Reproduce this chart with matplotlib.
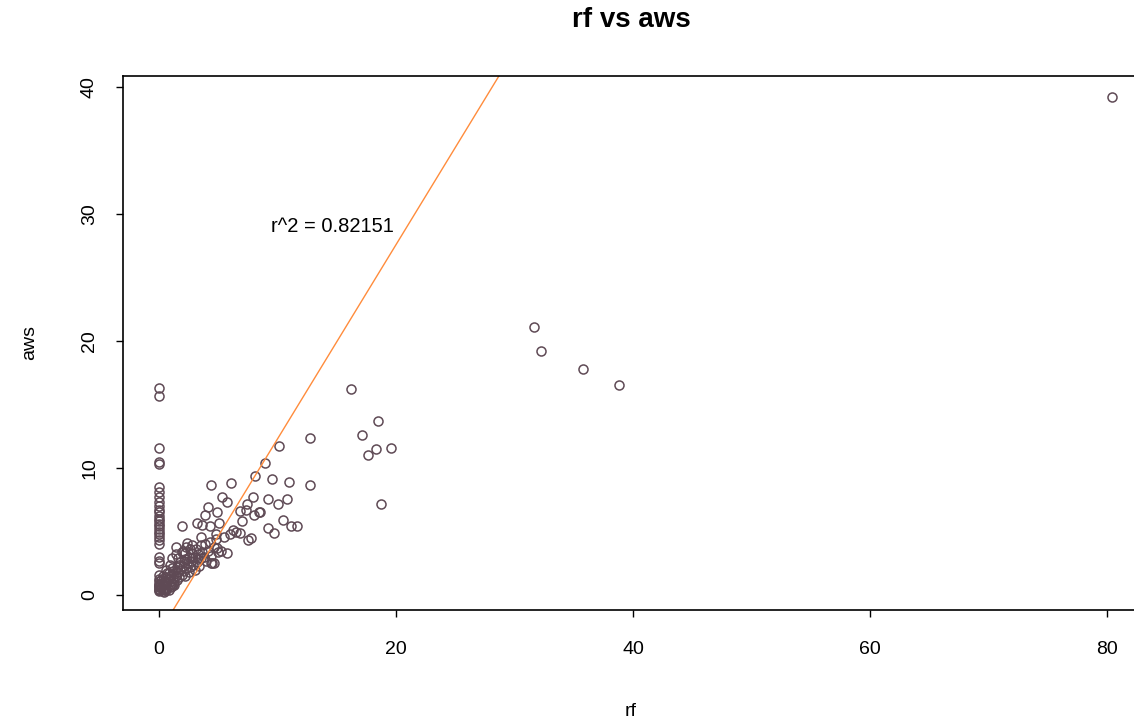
import numpy as np
import matplotlib.pyplot as plt

plt.rcParams['font.family'] = ['Liberation Sans', 'DejaVu Sans']

# rf = 0 column
zero_aws = [16.3, 15.7, 11.6, 10.5, 10.3, 8.5, 8.1, 7.7, 7.3, 7.0, 6.7, 6.5, 6.2, 6.0,
            5.8, 5.6, 5.4, 5.2, 5.0, 4.8, 4.6, 4.3, 4.0, 3.0, 2.7, 2.5, 1.6, 1.3, 1.1,
            0.9, 0.8, 0.7, 0.6, 0.5, 0.4, 0.3]

# dense cluster near origin
clus_rf = [0.1, 0.2, 0.3, 0.4, 0.5, 0.5, 0.6, 0.7, 0.8, 0.8, 0.9, 1.0, 1.0, 1.1, 1.2,
           1.2, 1.3, 1.4, 1.5, 1.5, 1.6, 1.7, 1.8, 1.8, 1.9, 2.0, 2.1, 2.2, 2.2, 2.3,
           2.4, 2.5, 2.5, 2.6, 2.7, 2.8, 2.9, 3.0, 3.0, 3.1, 3.2, 3.3, 3.4, 3.5, 3.5,
           3.6, 3.8, 3.9, 4.0, 4.1, 4.3, 4.4, 4.5, 4.6, 4.8, 5.0, 0.3, 0.6, 0.9, 1.1,
           1.4, 0.2, 0.7, 1.6, 2.0, 2.3, 1.9, 2.6, 0.4, 0.1, 0.3, 0.6, 1.0, 1.3,
           0.5, 0.8, 1.1, 1.7, 2.1, 2.8, 3.3, 0.4, 1.2, 1.5]
clus_aws = [0.4, 0.6, 0.3, 0.8, 0.5, 1.1, 0.7, 1.0, 0.4, 1.3, 0.8, 1.1, 1.6, 0.7, 1.3,
            1.9, 1.0, 1.5, 2.2, 1.2, 1.8, 1.4, 2.0, 2.6, 1.6, 2.3, 1.9, 2.8, 1.5, 2.1,
            2.5, 3.0, 1.8, 2.2, 2.7, 3.3, 2.4, 2.0, 3.0, 3.6, 2.6, 3.2, 2.3, 3.9, 2.9,
            3.4, 3.0, 4.0, 2.7, 3.5, 4.2, 3.1, 2.5, 3.8, 4.4, 3.4, 1.5, 2.0, 2.4, 2.9,
            3.2, 1.2, 1.7, 2.9, 3.5, 3.8, 3.4, 3.6, 0.2, 0.9, 0.5, 0.4, 0.6, 0.8,
            1.4, 1.7, 2.1, 2.4, 2.7, 2.9, 2.8, 1.0, 0.9, 1.8]

# scattered middle region
mid_rf = [1.9, 4.4, 6.1, 5.3, 5.7, 7.9, 8.1, 8.9, 10.1, 12.7, 9.5, 11.0, 12.7, 9.2,
          10.0, 10.8, 8.5, 9.2, 9.7, 10.5, 11.1, 11.6, 4.1, 4.9, 3.9, 7.4, 7.3, 8.4,
          3.6, 4.3, 5.1, 6.2, 6.8, 7.5, 7.8, 5.7, 4.9, 4.6, 1.4, 2.4, 2.8, 3.2, 6.0,
          6.5, 5.5, 4.8, 3.5, 7.0, 8.0, 6.8, 2.2, 4.4, 5.2]
mid_aws = [5.4, 8.7, 8.8, 7.7, 7.3, 7.7, 9.4, 10.4, 11.7, 12.4, 9.1, 8.9, 8.7, 7.6,
           7.2, 7.6, 6.5, 5.3, 4.9, 5.9, 5.4, 5.4, 6.9, 6.5, 6.3, 7.2, 6.7, 6.5,
           5.5, 5.4, 5.7, 5.1, 4.9, 4.3, 4.5, 3.3, 3.7, 2.5, 3.8, 4.1, 3.9, 5.7, 4.8,
           5.0, 4.6, 4.8, 4.6, 5.8, 6.3, 6.6, 3.3, 2.5, 3.5]

# large rainfall values
big_rf = [16.2, 17.1, 18.5, 17.6, 18.3, 19.6, 18.7, 31.6, 32.2, 35.8, 38.8, 80.4]
big_aws = [16.2, 12.6, 13.7, 11.0, 11.5, 11.6, 7.2, 21.1, 19.2, 17.8, 16.5, 39.2]

rf = np.array([0.0] * len(zero_aws) + clus_rf + mid_rf + big_rf)
aws = np.array(zero_aws + clus_aws + mid_aws + big_aws)

intercept = -3.0
slope = 1.53
r2_text = "r^2 = 0.82151"

fig = plt.figure(figsize=(11.34, 7.25), dpi=100)
ax = fig.add_axes([123 / 1134, 115 / 725, 1027 / 1134, 534 / 725])

ax.plot(rf, aws, 'o', mfc='none', mec='#5f4a55', mew=1.1, ms=6.5)

xx = np.array([-5, 90])
ax.plot(xx, intercept + slope * xx, color='#ff8c3c', linewidth=1.0)

ax.text(14.6, 29, r2_text, fontsize=14.5, ha='center', va='center')

ax.set_xlim(-3.04, 83.6)
ax.set_ylim(-1.18, 40.87)
ax.set_xticks([0, 20, 40, 60, 80])
ax.set_yticks([0, 10, 20, 30, 40])
ax.tick_params(axis='both', direction='out', length=5, width=1, labelsize=14)
ax.tick_params(axis='x', pad=17)
ax.tick_params(axis='y', pad=13)
for lab in ax.get_yticklabels():
    lab.set_rotation(90)
    lab.set_va('center')
for s in ax.spines.values():
    s.set_linewidth(1.2)

fig.text(631 / 1134, 1 - 20 / 725, 'rf vs aws', fontsize=20, fontweight='bold',
         ha='center', va='center')
fig.text(631 / 1134, 1 - 712 / 725, 'rf', fontsize=14, ha='center', va='center')
fig.text(30 / 1134, 1 - 343 / 725, 'aws', fontsize=14, ha='center', va='center',
         rotation=90)

fig.savefig('out.png', dpi=100)
